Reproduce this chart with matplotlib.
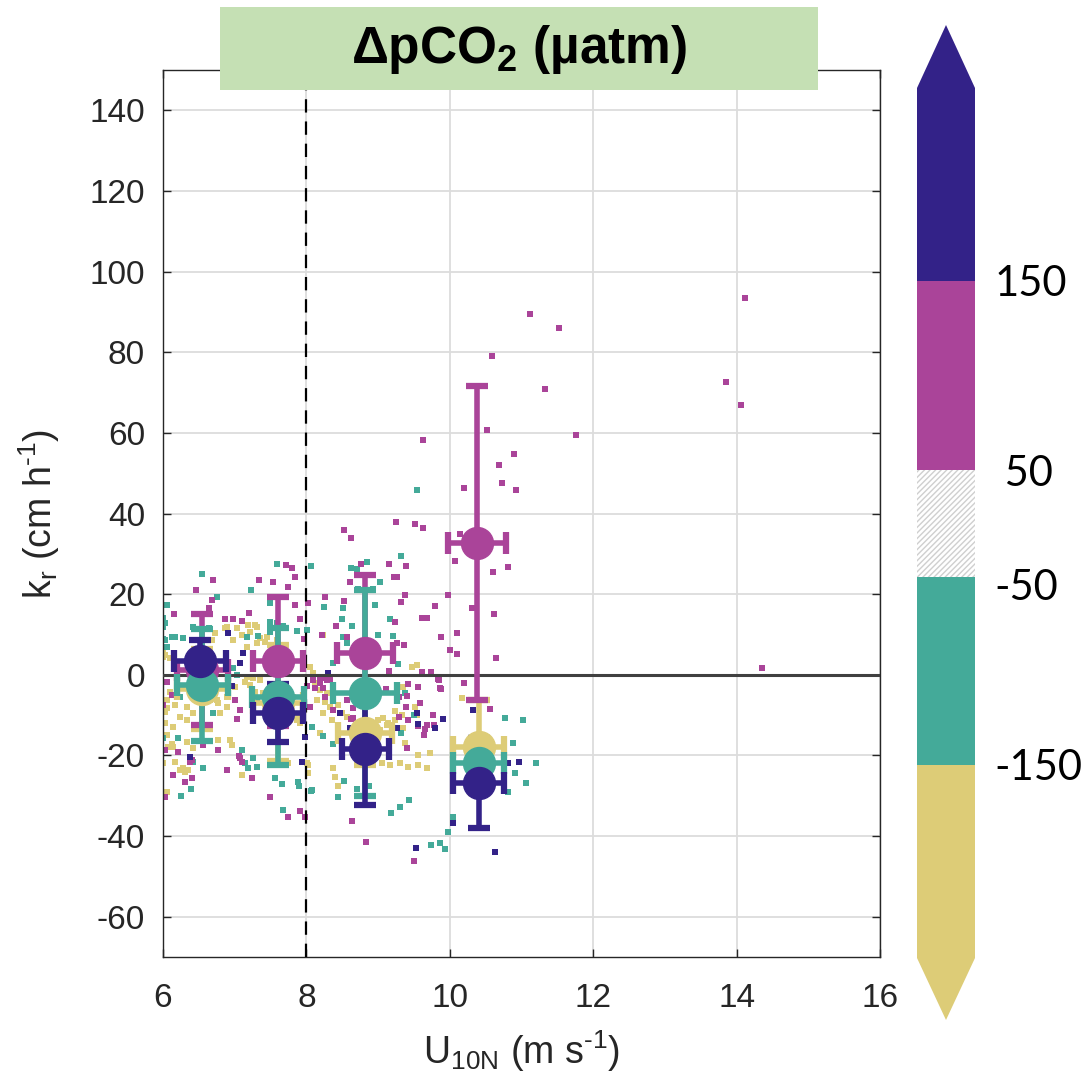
import numpy as np
import matplotlib
matplotlib.use("Agg")
import matplotlib.pyplot as plt
from matplotlib.patches import Rectangle, Polygon

plt.rcParams['font.family'] = ['Liberation Sans', 'DejaVu Sans']
plt.rcParams['mathtext.fontset'] = 'custom'
plt.rcParams['mathtext.rm'] = 'Liberation Sans'
plt.rcParams['mathtext.it'] = 'Liberation Sans'
plt.rcParams['mathtext.bf'] = 'Liberation Sans:bold'
plt.rcParams['axes.unicode_minus'] = False

# colours of the four dpCO2 classes
yellow = '#DDCC77'
teal = '#44AA99'
magenta = '#AA4499'
navy = '#332288'

# individual k_r estimates (U10N, k_r) per class
pts_yellow = [
    (6.00, -8.7), (6.06, -8.2), (6.17, -7.4), (6.33, -7.9), (6.00, -22.0), (6.07, -17.8), (6.14, -17.8),
    (6.06, -29.1), (6.35, -23.5), (6.28, -23.0), (6.77, -16.1), (6.93, -16.1), (6.96, -17.3), (7.10, -24.8),
    (6.75, -6.2), (6.89, -5.4), (7.00, -3.0), (7.03, 11.6), (7.10, 9.9), (7.31, 11.9), (7.45, 9.4),
    (7.59, 8.7), (6.89, 11.9), (7.26, -0.7), (7.35, -1.2), (7.17, -0.5), (7.39, -4.5), (7.49, -5.4),
    (7.77, -11.1), (7.87, -11.1), (7.91, -11.9), (8.05, 2.0), (8.09, 0.5), (8.15, -2.0), (8.19, -3.7),
    (8.29, -4.5), (8.37, -6.2), (8.44, -7.4), (8.50, -9.4), (8.57, -10.4), (8.01, -21.8), (8.02, -24.3),
    (8.37, -23.0), (8.40, -25.3), (8.44, -27.7), (9.05, -21.8), (9.17, -22.3), (9.31, -21.8), (9.42, -22.8),
    (9.56, -22.3), (9.68, -23.0), (9.56, -19.8), (9.72, -19.3), (9.24, -11.1), (9.35, -13.1), (9.38, -16.8),
    (9.35, -3.0), (9.47, 2.0), (9.54, 2.5), (9.00, -11.1), (9.12, -12.4), (10.17, -5.7), (8.23, 9.9),
    (6.73, 10.4), (6.68, 8.7), (6.00, 5.4), (6.03, 4.9), (6.10, 4.2), (6.56, -4.5), (6.66, -6.2),
    (6.77, -6.9), (6.80, -9.4), (6.89, -7.9), (6.24, -10.4), (6.33, -11.1), (6.42, -9.4), (6.03, -11.9),
    (6.14, -12.9), (8.15, -6.2), (8.26, -6.7), (8.33, -7.9), (8.23, -9.4), (8.36, -11.1), (8.08, -12.9),
    (8.19, -14.4), (9.07, -10.7), (9.14, -11.9), (9.03, -13.6), (9.51, -7.9), (9.54, -9.9), (6.06, -14.9),
    (6.12, -17.1), (6.33, -16.6), (6.42, -18.1), (6.17, -21.6), (6.24, -23.5), (6.31, -24.0), (7.56, -22.3),
    (7.74, -21.8), (8.02, -22.3), (7.14, -1.7), (7.21, -2.5), (7.28, -4.2), (6.10, -4.2), (6.06, -6.2),
    (6.03, -9.2), (7.17, 6.9), (7.19, 12.4), (7.31, 7.9), (7.35, 9.2), (7.42, 8.2), (7.21, 10.7),
    (7.28, 12.4), (6.98, 8.7), (6.86, 11.6), (6.00, 4.5), (8.12, -2.5), (7.74, -4.5), (7.81, -5.4),
    (7.88, -10.7), (9.33, -10.0), (9.24, -9.0),
]
pts_teal = [
    (9.54, 45.8), (9.32, 29.5), (7.59, 27.5), (8.06, 27.0), (8.62, 26.6), (8.71, 26.3), (8.85, 28.0),
    (6.54, 25.0), (7.23, 21.0), (6.75, 19.4), (6.06, 17.3), (8.51, 16.6), (8.50, 13.8), (8.64, 12.0),
    (8.96, 17.2), (9.17, 13.9), (9.00, 9.9), (9.21, 9.7), (8.72, 21.3), (8.93, 21.3), (9.03, 23.0),
    (7.49, 13.1), (7.59, 12.9), (7.67, 12.0), (7.49, 17.8), (7.49, 10.7), (6.00, 14.2), (6.03, 12.9),
    (6.00, 11.9), (6.42, 11.9), (6.64, 11.6), (6.03, 8.7), (6.06, 6.8), (6.00, 8.9), (6.12, 9.4),
    (6.17, 9.4), (6.28, 9.2), (7.17, 9.3), (7.32, 9.7), (7.87, 10.9), (8.01, 11.1), (8.25, 16.8),
    (8.51, 9.4), (8.57, 7.9), (8.37, 3.0), (9.28, 2.7), (6.98, 1.7), (7.03, 0.0), (7.31, -5.7),
    (7.45, -4.2), (6.70, -9.4), (6.45, -4.2), (6.24, -5.4), (6.00, -15.8), (6.21, -15.6), (6.42, -21.6),
    (6.56, -23.0), (7.10, -18.7), (7.14, -21.8), (7.19, -23.0), (7.31, -22.8), (7.26, -20.6), (6.25, -30.1),
    (6.39, -28.3), (7.56, -25.5), (7.66, -27.0), (7.88, -26.5), (7.90, -27.7), (8.06, -28.7), (7.67, -33.5),
    (8.08, -12.9), (8.23, -15.2), (8.37, -17.2), (9.50, -9.9), (9.32, -14.4), (8.08, -28.5), (8.44, -30.2),
    (8.52, -26.3), (8.71, -28.3), (8.87, -27.5), (9.18, -34.3), (9.31, -32.8), (9.43, -31.0), (9.74, -42.1),
    (9.86, -41.6), (9.93, -43.1), (9.97, -38.9), (10.04, -35.2), (10.77, -10.7), (11.02, -11.1),
    (10.88, -16.8), (11.20, -21.8), (11.06, -26.8), (10.91, -24.3), (10.81, -29.0), (9.38, -4.5),
]
pts_magenta = [
    (11.12, 89.4), (11.52, 86.0), (10.59, 79.0), (11.33, 70.9), (11.76, 59.5), (13.85, 72.6), (14.06, 66.9),
    (14.12, 93.5), (14.35, 1.7), (9.63, 58.2), (10.52, 60.7), (10.90, 54.8), (10.69, 52.0), (10.73, 47.6),
    (10.92, 45.8), (10.20, 46.3), (10.14, 34.9), (9.25, 38.0), (9.51, 37.4), (9.63, 36.3), (8.52, 35.9),
    (8.62, 34.0), (10.07, 28.2), (10.60, 25.5), (10.81, 26.8), (9.15, 27.6), (9.39, 27.0), (9.26, 24.3),
    (9.22, 24.3), (8.76, 27.4), (8.61, 23.0), (7.72, 27.3), (7.80, 26.5), (7.84, 24.3), (7.74, 21.8),
    (7.34, 23.5), (7.53, 23.1), (6.70, 23.5), (6.46, 21.1), (9.38, 19.8), (9.32, 18.1), (9.97, 19.7),
    (9.79, 17.0), (10.62, 15.1), (10.31, 16.6), (9.61, 14.1), (9.68, 14.1), (9.88, 9.4), (10.10, 10.4),
    (10.00, 6.2), (10.10, 5.2), (10.64, 4.2), (7.84, 17.3), (8.26, 19.3), (8.52, 18.2), (8.41, 12.1),
    (8.22, 9.9), (8.57, 9.4), (6.68, 18.6), (6.64, 16.6), (6.15, 15.1), (6.86, 13.9), (6.98, 13.9),
    (7.10, 13.4), (7.20, 15.4), (7.91, 13.9), (8.02, 17.8), (7.97, 8.9), (9.24, 13.1), (9.36, 7.4),
    (9.26, 7.9), (9.15, 1.0), (9.61, 0.7), (9.74, 0.6), (9.85, -1.2), (9.88, -3.5), (10.20, -2.0),
    (10.56, -8.4), (9.40, -5.2), (9.29, -5.4), (9.29, -10.4), (9.42, -11.1), (9.68, -12.4), (9.64, -14.9),
    (9.78, -12.4), (9.40, -18.1), (8.65, -8.2), (8.65, -10.7), (8.09, -1.2), (8.19, -1.2), (8.29, -1.2),
    (8.01, -2.7), (8.05, -7.9), (8.26, -5.4), (7.03, -10.9), (7.07, -8.7), (7.00, -6.2), (6.06, -1.7),
    (6.12, -5.0), (6.00, -7.4), (6.21, -19.1), (6.40, -21.1), (6.14, -24.8), (6.31, -26.5), (6.40, -25.5),
    (6.03, -30.2), (6.56, -17.3), (6.89, -23.5), (7.07, -20.6), (7.10, -21.6), (7.24, -25.5), (7.49, -30.2),
    (7.74, -35.2), (7.91, -33.9), (7.98, -35.2), (8.64, -36.2), (8.83, -41.4), (9.50, -46.3), (9.77, -9.9),
    (9.65, -13.4), (9.11, -3.5), (9.42, -2.2), (9.56, -3.0), (9.58, -6.9), (9.84, -1.0), (9.86, -3.2),
    (9.39, -7.9), (9.56, -12.6), (8.37, -8.7), (8.57, -6.2), (8.62, -10.9), (8.26, -0.7), (8.33, -1.2),
    (8.19, -2.0), (8.12, -3.2), (8.23, -3.2), (6.03, -18.6), (6.77, -18.6), (6.38, -21.6), (7.06, -20.1),
]
pts_navy = [
    (6.91, 10.4), (7.07, 3.0), (7.12, 5.5), (6.96, -2.9), (8.30, 0.5), (8.47, -9.4), (8.61, -13.1),
    (9.56, -12.2), (9.79, -13.1), (9.90, -10.9), (9.26, -13.1), (9.54, -9.4), (7.98, -15.4), (7.94, -21.6),
    (6.38, -20.3), (10.63, -43.9), (9.53, -42.9), (10.04, -36.7), (10.81, -21.8), (10.97, -21.6), (10.32, -8.7),
]

# bin averages: U10N mean, k_r mean, std U10N, std k_r
bin_yellow = dict(x=[6.55, 7.6, 8.82, 10.4], y=[-3.5, -7.0, -14.4, -17.8],
                  xerr=[0.36, 0.35, 0.38, 0.36], yerr=[10.0, 14.5, 8.0, 11.6])
bin_teal = dict(x=[6.55, 7.6, 8.82, 10.4], y=[-2.5, -5.4, -4.5, -21.8],
                xerr=[0.36, 0.36, 0.45, 0.35], yerr=[13.8, 17.0, 25.5, 6.0])
bin_magenta = dict(x=[6.55, 7.6, 8.82, 10.38], y=[1.3, 3.3, 5.4, 32.7],
                   xerr=[0.35, 0.35, 0.39, 0.41], yerr=[13.7, 15.9, 19.4, 38.9])
bin_navy = dict(x=[6.52, 7.6, 8.82, 10.4], y=[3.3, -9.5, -18.5, -26.8],
                xerr=[0.36, 0.35, 0.33, 0.36], yerr=[5.4, 7.2, 13.8, 11.1])

# colourbar classes (bottom to top)
cb_colors = [yellow, teal, 'white', magenta, navy]
cb_heights = [193, 188, 107, 189, 193]
cb_labels = ['-150', '-50', ' 50', '150']

fig = plt.figure(figsize=(10.89, 10.89), dpi=100)
ax = fig.add_axes([0.1497, 0.1212, 0.6584, 0.8145])

ax.grid(True, color='#dcdcdc', lw=1.3, zorder=0)
ax.set_axisbelow(True)

for pts, c in [(pts_yellow, yellow), (pts_teal, teal), (pts_magenta, magenta), (pts_navy, navy)]:
    arr = np.array(pts)
    ax.scatter(arr[:, 0], arr[:, 1], s=20, marker='s', color=c, lw=0, zorder=2)

ax.axhline(0, color='#404040', lw=2.2, zorder=3)
ax.axvline(8, color='black', lw=1.6, ls=(0, (6, 4)), zorder=3)

for b, c in [(bin_yellow, yellow), (bin_magenta, magenta), (bin_teal, teal), (bin_navy, navy)]:
    ax.errorbar(b['x'], b['y'], yerr=b['yerr'], xerr=b['xerr'], fmt='o', color=c, ms=23,
                lw=4, capsize=8, capthick=4.5, zorder=4)

ax.set_xlim(6, 16)
ax.set_ylim(-70, 150)
ax.set_xticks(np.arange(6, 17, 2))
ax.set_yticks(np.arange(-60, 141, 20))
ax.tick_params(direction='in', length=6, width=1, colors='#262626', labelsize=24,
               top=True, right=True, labelcolor='#262626')
ax.tick_params(axis='y', pad=13)
ax.tick_params(axis='x', pad=19)
for s in ax.spines.values():
    s.set_color('#262626')
    s.set_linewidth(1)
ax.set_xlabel(r'U$_{\mathrm{10N}}$ (m s$^{\text{-}1}$)', fontsize=27, color='#262626', labelpad=10)
ax.set_ylabel(r'k$_{\mathrm{r}}$ (cm h$^{\text{-}1}$)', fontsize=27, color='#262626', labelpad=20)

# title box
fig.add_artist(Rectangle((220 / 1089, 1 - 90 / 1089), 598 / 1089, 83 / 1089, transform=fig.transFigure,
                         facecolor='#C5E0B4', edgecolor='none', zorder=10))
fig.text(519 / 1089, 1 - 50 / 1089, r'ΔpCO$_\mathbf{2}$ (µatm)', fontsize=37, fontweight='bold',
         ha='center', va='center', zorder=11)

# discrete colourbar
cax = fig.add_axes([917 / 1089, 1 - 1020 / 1089, 58 / 1089, 995 / 1089])
bottom = 62
for h, c in zip(cb_heights, cb_colors):
    if c == 'white':
        cax.bar(0.5, h, bottom=bottom, width=1, color='white', edgecolor='#cfcfcf', hatch='//////', lw=0)
    else:
        cax.bar(0.5, h, bottom=bottom, width=1, color=c, lw=0)
    bottom += h
top = bottom
cax.add_patch(Polygon([(0, top), (1, top), (0.5, 995)], closed=True, color=navy, lw=0))
cax.add_patch(Polygon([(0, 62), (1, 62), (0.5, 0)], closed=True, color=yellow, lw=0))
cax.set_xlim(0, 1)
cax.set_ylim(0, 995)
for s in cax.spines.values():
    s.set_visible(False)
cax.set_xticks([])
cax.yaxis.tick_right()
cax.set_yticks([62 + 193, 62 + 193 + 188 - 8, 62 + 193 + 188 + 107, 62 + 193 + 188 + 107 + 189])
cax.set_yticklabels(cb_labels, fontsize=30, family=['Lato', 'DejaVu Sans'])
cax.tick_params(axis='y', length=0, pad=14)

fig.savefig('out.png', dpi=100)
